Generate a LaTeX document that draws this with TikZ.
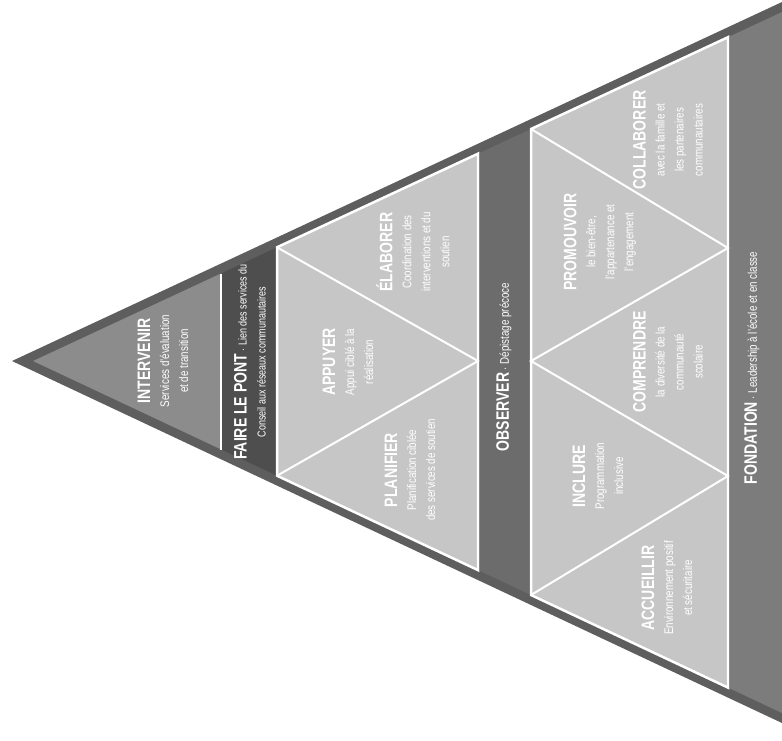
\documentclass[tikz,border=0pt]{standalone}
\usepackage{fontspec}
\setmainfont{Liberation Sans}[FakeStretch=0.78]
\definecolor{rim}{HTML}{5E5E5E}
\definecolor{capgray}{HTML}{8C8C8C}
\definecolor{bridgegray}{HTML}{4E4E4E}
\definecolor{obsgray}{HTML}{6C6C6C}
\definecolor{basegray}{HTML}{7C7C7C}
\definecolor{tilegray}{HTML}{C6C6C6}
\newcommand{\blocktitle}[1]{{\fontsize{18}{20}\selectfont\bfseries #1}}
\tikzset{
  blocktxt/.style={text=white, rotate=90, align=center, inner sep=0pt,
    font=\fontsize{12.5}{19}\selectfont},
  tile/.style={fill=tilegray, draw=white, line width=2.5pt, line join=miter},
  seam/.style={draw=white, line width=2pt},
}
\begin{document}
\begin{tikzpicture}[x=1pt,y=-1pt]
        \useasboundingbox (0,0) rectangle (782,740);
        % outer rim of the pyramid
        \fill[rim] (12,361) -- (782,2) -- (782,723) -- cycle;
        % tip: INTERVENIR
        \fill[capgray] (33,361) -- (220,273.9) -- (220,448.9) -- cycle;
        % bridge band: FAIRE LE PONT
        \fill[bridgegray] (222,273) -- (277,247.3) -- (277,475.7) -- (222,449.8) -- cycle;
        \draw[seam] (221,273.5) -- (221,449.5);
        % middle tiles
        \path (277,247.3) coordinate (m1) (478,153.7) coordinate (m2)
              (478,570.1) coordinate (m3) (277,475.7) coordinate (m4)
              (478,361) coordinate (mr);
        \draw[tile] (m1) -- (m2) -- (m3) -- (m4) -- cycle;
        \draw[seam] (m1) -- (mr) -- (m4);
        % OBSERVER band
        \fill[obsgray] (479.5,153) -- (529.5,129.7) -- (529.5,594.3) -- (479.5,570.8) -- cycle;
        % lower tiles
        \path (531,129) coordinate (b1) (728,37.2) coordinate (b2)
              (728,687.6) coordinate (b3) (531,595) coordinate (b4)
              (531,361) coordinate (bl) (728,248) coordinate (bu) (728,476) coordinate (bd);
        \draw[tile] (b1) -- (b2) -- (b3) -- (b4) -- cycle;
        \draw[seam] (b1) -- (bu) -- (bl) -- (bd) -- (b4);
        % FONDATION band
        \fill[basegray] (729.5,36.5) -- (782,12) -- (782,713) -- (729.5,688.3) -- cycle;
        % labels
        \node[blocktxt] (intervenir) at (163,361) {\blocktitle{INTERVENIR}\\Services d'évaluation\\et de transition};
        \node[blocktxt, font=\fontsize{11.5}{19}\selectfont] (pont) at (250,362) {\blocktitle{FAIRE LE PONT} · Lien des services du\\Conseil aux réseaux communautaires};
        \node[blocktxt] (appuyer) at (348,362) {\blocktitle{APPUYER}\\Appui ciblé à la\\réalisation};
        \node[blocktxt] (planifier) at (410,470) {\blocktitle{PLANIFIER}\\Planification ciblée\\des services de soutien};
        \node[blocktxt] (elaborer) at (413,252) {\blocktitle{ÉLABORER}\\Coordination des\\interventions et du\\soutien};
        \node[blocktxt] (observer) at (504,367) {\blocktitle{OBSERVER} · Dépistage précoce};
        \node[blocktxt] (collaborer) at (668,140) {\blocktitle{COLLABORER}\\avec la famille et\\les partenaires\\communautaires};
        \node[blocktxt] (promouvoir) at (600,242) {\blocktitle{PROMOUVOIR}\\le bien-être,\\l'appartenance et\\l'engagement};
        \node[blocktxt] (comprendre) at (668,362) {\blocktitle{COMPRENDRE}\\la diversité de la\\communauté\\scolaire};
        \node[blocktxt] (inclure) at (598,476) {\blocktitle{INCLURE}\\Programmation\\inclusive};
        \node[blocktxt] (accueillir) at (667,588) {\blocktitle{ACCUEILLIR}\\Environnement positif\\et sécuritaire};
        \node[blocktxt] (fondation) at (752,368) {\blocktitle{FONDATION} · Leadership à l'école et en classe};
\end{tikzpicture}
\end{document}
